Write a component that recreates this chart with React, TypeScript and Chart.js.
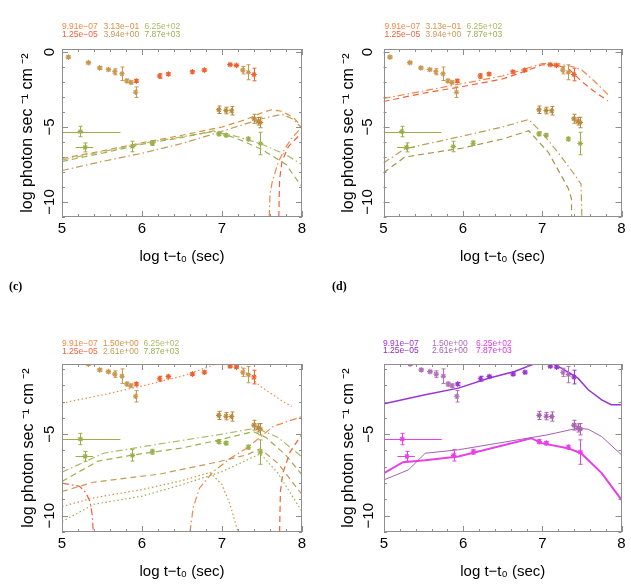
import React, { useEffect, useRef } from "react";
import { Chart, registerables } from "chart.js";
Chart.register(...registerables);

const FONT = "'Liberation Sans', Arial, Helvetica, sans-serif";

// ---------- observed light-curve points (log t, log flux) ----------
const optX = [5.93, 6.22, 6.33, 6.63, 6.78, 7.1, 7.18, 7.4];
const optY = [-1.93, -1.6, -1.47, -1.32, -1.21, -0.84, -0.89, -1.5];
const optErr = [0.1, 0.15, 0.08, 0.08, 0.08, 0.06, 0.06, 0.42];

const uvX = [5.08, 5.33, 5.47, 5.58, 5.66, 5.75, 5.81, 5.86, 5.92, 7.26, 7.33];
const uvY = [-0.34, -0.71, -1.06, -1.17, -1.32, -1.45, -1.93, -2.03, -2.68, -1.21, -1.35];
const uvErr = [0.08, 0.08, 0.08, 0.08, 0.2, 0.45, 0.12, 0.1, 0.35, 0.25, 0.5];

const xrayX = [6.96, 7.05, 7.12, 7.4, 7.45, 7.48];
const xrayY = [-3.85, -3.9, -3.92, -4.45, -4.62, -4.7];
const xrayErr = [0.25, 0.22, 0.28, 0.3, 0.25, 0.35];

const gammaX = [5.23, 5.29, 5.88, 6.13, 6.96, 7.05, 7.33, 7.48];
const gammaY = [-5.3, -6.36, -6.3, -6.08, -5.46, -5.55, -5.8, -6.1];
const gammaErr = [0.35, 0.3, 0.35, 0.15, 0.12, 0.1, 0.12, 0.75];
const gammaXLo = [0.23, 0.12, 0, 0, 0, 0, 0, 0];
const gammaXHi = [0.5, 0.1, 0, 0, 0, 0, 0, 0];

// ---------- model curves ----------
type Pt = [number, number];
const aGreenDash: Pt[] = [[5, -7.3], [5.5, -6.75], [6, -6.15], [6.5, -5.7], [6.9, -5.25], [7.2, -5.8], [7.5, -6.5], [7.8, -7.5], [8, -9.0]];
const aGreenDashDot: Pt[] = [[5, -7.2], [5.5, -6.65], [6, -6.1], [6.5, -5.65], [6.9, -5.3], [7.2, -5.65], [7.5, -6.15], [7.8, -6.85], [8, -7.5]];
const aBrownDash: Pt[] = [[5, -7.1], [5.5, -6.6], [6, -6.05], [6.5, -5.55], [7, -5.0], [7.3, -4.5], [7.5, -4.05], [7.62, -3.85], [7.75, -3.95], [7.9, -4.4], [8, -5.0]];
const aBrownDashDot: Pt[] = [[5, -7.9], [5.5, -7.3], [6, -6.75], [6.5, -6.1], [6.9, -5.45], [7.2, -4.95], [7.5, -4.45], [7.75, -4.15], [7.9, -4.5], [8, -5.1]];
const aRedDashDot: Pt[] = [[7.59, -11], [7.6, -9.5], [7.63, -8.6], [7.7, -7.4], [7.78, -6.5], [7.87, -5.75], [8, -5.0]];
const aRedDash: Pt[] = [[7.71, -11], [7.72, -8.5], [7.75, -7.3], [7.83, -6.3], [7.92, -5.8], [8, -5.4]];

const bOrangeDashDot: Pt[] = [[5, -3.1], [5.5, -2.6], [6, -2.1], [6.5, -1.6], [6.8, -1.1], [7.0, -0.77], [7.2, -0.78], [7.4, -1.0], [7.5, -1.2], [7.65, -1.9], [7.83, -2.84]];
const bRedDash: Pt[] = [[5, -3.3], [5.5, -2.75], [6, -2.3], [6.5, -1.8], [6.8, -1.25], [7.0, -0.85], [7.2, -0.9], [7.35, -1.2], [7.5, -1.97], [7.65, -2.6], [7.83, -3.27]];
const bBrownDashDot: Pt[] = [[5, -7.4], [5.27, -6.45], [6, -5.6], [6.5, -5.0], [6.83, -4.5], [7.0, -5.4], [7.2, -6.7], [7.37, -7.9], [7.49, -8.8], [7.5, -11]];
const bGreenDash: Pt[] = [[5, -8.05], [5.27, -7.0], [6, -6.4], [6.5, -5.8], [6.83, -5.25], [7.08, -6.7], [7.33, -9.1], [7.37, -9.8], [7.37, -11]];

const cOrangeDot: Pt[] = [[5, -3.1], [5.5, -2.6], [6, -2.05], [6.5, -1.45], [6.9, -0.75], [7.05, -0.4], [7.2, -0.6], [7.32, -1.36], [7.48, -2.07], [7.73, -2.9], [7.87, -3.3]];
const cGreenDashDot: Pt[] = [[5, -7.33], [5.52, -6.17], [6.22, -5.6], [7, -5.0], [7.43, -4.63], [7.7, -5.2], [8, -6.4]];
const cGreenDash: Pt[] = [[5, -7.9], [5.45, -6.65], [5.9, -6.27], [6.5, -5.85], [6.97, -5.35], [7.39, -4.84], [7.55, -5.2], [7.8, -6.3], [8, -7.5]];
const cBrownDash: Pt[] = [[5, -8.52], [5.39, -7.95], [6.22, -7.45], [6.97, -6.68], [7.31, -6.27], [7.48, -5.9], [7.7, -6.8], [8, -8.7]];
const cGreenDot: Pt[] = [[5, -10.36], [5.4, -9.3], [6, -8.8], [6.5, -8.1], [7, -7.3], [7.48, -6.2], [7.7, -7.4], [8, -9.75]];
const cBrownDot: Pt[] = [[5, -9.44], [5.4, -8.9], [6, -8.4], [6.5, -7.85], [6.85, -7.35], [7.0, -8.1], [7.1, -9.3], [7.2, -11]];
const cRedDashDotL: Pt[] = [[5, -8.0], [5.22, -8.2], [5.3, -8.6], [5.35, -9.13], [5.38, -10], [5.39, -11]];
const cRedDashDotR: Pt[] = [[6.6, -11], [6.64, -9.5], [6.72, -8.3], [6.89, -7.3], [7.1, -6.5], [7.31, -5.86], [7.64, -4.53], [8, -3.92]];
const cRedDash: Pt[] = [[7.72, -11], [7.73, -8.5], [7.76, -7.4], [7.85, -6.1], [8, -5.0]];

const dPurple: Pt[] = [[5, -3.14], [5.52, -2.59], [5.94, -2.18], [6.32, -1.57], [6.65, -1.16], [6.9, -0.69], [7.0, -0.5], [7.1, -0.6], [7.24, -0.95], [7.45, -1.57], [7.58, -2.28], [7.75, -2.9], [7.87, -3.2], [8.0, -3.2]];
const dMauve: Pt[] = [[5, -7.8], [5.31, -7.19], [5.52, -6.17], [5.94, -5.96], [7.07, -5.04], [7.45, -4.63], [7.58, -4.7], [7.75, -5.15], [8, -6.27]];
const dMagenta: Pt[] = [[5, -7.39], [5.24, -6.72], [5.52, -6.6], [5.94, -6.37], [6.86, -5.25], [6.99, -5.55], [7.32, -5.86], [7.49, -6.17], [7.75, -7.39], [8, -9.03]];

// ---------- legends ----------
const legendTop = ["9.91e\u221207", "3.13e\u221201", "6.25e+02"];
const legendBot = ["1.25e\u221205", "3.94e+00", "7.87e+03"];
const legendTopC = ["9.91e\u221207", "1.50e+00", "6.25e+02"];
const legendBotC = ["1.25e\u221205", "2.61e+00", "7.87e+03"];

const DASH = [6, 4];
const DASHDOT = [7, 3, 1.5, 3];
const DOT = [1.5, 2.5];

const C = {
  orange: "#f08848", red: "#f0603c", tanL: "#d89040", tan: "#c49a58", olive: "#b0b868", green: "#98b050",
  pUV: "#c89850", pX: "#b88a3c", pOpt: "#f0602c", pG: "#98b048",
};
const D = { purple: "#9a34d4", purple2: "#8a2cc4", mauve: "#b070b8", mauve2: "#a860b0", mag: "#e840e8", mag2: "#e030e0" };

function lineDs(pts: Pt[], color: string, dash: number[], width = 1.2) {
  return {
    data: pts.map(([x, y]) => ({ x, y })), showLine: true, borderColor: color, backgroundColor: color,
    borderDash: dash, borderWidth: width, pointRadius: 0, fill: false, tension: 0,
  };
}
function pointDs(xs: number[], ys: number[], err: number[], color: string, xlo?: number[], xhi?: number[]) {
  return {
    data: xs.map((x, i) => ({ x, y: ys[i] })), showLine: false, pointStyle: "star", pointRadius: 2.8,
    borderColor: color, backgroundColor: color, borderWidth: 1.1, errY: err, errXLo: xlo, errXHi: xhi,
  };
}
function obs(cOpt: string, cUV: string, cX: string, cG: string) {
  return [
    pointDs(optX, optY, optErr, cOpt),
    pointDs(uvX, uvY, uvErr, cUV),
    pointDs(xrayX, xrayY, xrayErr, cX),
    pointDs(gammaX, gammaY, gammaErr, cG, gammaXLo, gammaXHi),
  ];
}

const framePlugin = {
  id: "frame",
  afterDraw(chart: any, _a: any, opts: any) {
    const { ctx, chartArea: ca, scales } = chart;
    const xs = scales.x, ys = scales.y;
    ctx.save();
    ctx.strokeStyle = "#8e8e8e";
    ctx.lineWidth = 1;
    ctx.strokeRect(Math.round(ca.left) + 0.5, Math.round(ca.top) + 0.5, Math.round(ca.width) - 1, Math.round(ca.height) - 1);
    ctx.beginPath();
    for (let i = 0; i <= 15; i++) {
      const v = (25 + i) / 5;
      const px = Math.round(xs.getPixelForValue(v)) + 0.5;
      const len = i % 5 === 0 ? 6 : 3;
      ctx.moveTo(px, ca.bottom); ctx.lineTo(px, ca.bottom - len);
      ctx.moveTo(px, ca.top); ctx.lineTo(px, ca.top + len);
    }
    for (let v = -11; v <= 0; v++) {
      if (v < ys.min - 1e-9 || v > ys.max + 1e-9) continue;
      const py = Math.round(ys.getPixelForValue(v)) + 0.5;
      const len = v % 5 === 0 ? 6 : 3;
      ctx.moveTo(ca.left, py); ctx.lineTo(ca.left + len, py);
      ctx.moveTo(ca.right, py); ctx.lineTo(ca.right - len, py);
    }
    ctx.stroke();
    ctx.fillStyle = "#000";
    ctx.font = `15px ${FONT}`;
    ctx.textAlign = "center";
    ctx.textBaseline = "middle";
    for (const v of [0, -5, -10]) {
      if (v < ys.min || v > ys.max) continue;
      const py = ys.getPixelForValue(v);
      ctx.save();
      ctx.translate(opts.labelX, py);
      ctx.rotate(-Math.PI / 2);
      ctx.fillText(v === 0 ? "0" : "\u2212" + Math.abs(v), 0, 0);
      ctx.restore();
    }
    ctx.restore();
  },
};

const errPlugin = {
  id: "errbars",
  afterDatasetsDraw(chart: any) {
    const { ctx, chartArea: ca, scales } = chart;
    const xs = scales.x, ys = scales.y;
    ctx.save();
    ctx.beginPath();
    ctx.rect(ca.left, ca.top, ca.width, ca.height);
    ctx.clip();
    ctx.lineWidth = 1;
    chart.data.datasets.forEach((ds: any) => {
      if (!ds.errY) return;
      ctx.strokeStyle = ds.borderColor;
      ctx.beginPath();
      ds.data.forEach((p: any, i: number) => {
        const px = Math.round(xs.getPixelForValue(p.x)) + 0.5;
        const py = Math.round(ys.getPixelForValue(p.y)) + 0.5;
        const e = ds.errY[i];
        if (e > 0) {
          const y1 = ys.getPixelForValue(p.y + e), y2 = ys.getPixelForValue(p.y - e);
          ctx.moveTo(px, y1); ctx.lineTo(px, y2);
          ctx.moveTo(px - 2, y1); ctx.lineTo(px + 2, y1);
          ctx.moveTo(px - 2, y2); ctx.lineTo(px + 2, y2);
        }
        const lo = ds.errXLo ? ds.errXLo[i] : 0, hi = ds.errXHi ? ds.errXHi[i] : 0;
        if (lo || hi) {
          ctx.moveTo(xs.getPixelForValue(p.x - lo), py);
          ctx.lineTo(xs.getPixelForValue(p.x + hi), py);
        }
      });
      ctx.stroke();
    });
    ctx.restore();
  },
};

type PanelCfg = {
  ca: { l: number; r: number; t: number; b: number };
  yMin: number; yMax: number; yTitleX: number; yTickX: number; xTitleY: number;
  datasets: any[];
};

const W = 631, H = 587;

const panels: PanelCfg[] = [
  {
    ca: { l: 62, r: 302, t: 49, b: 217 }, yMin: -11, yMax: 0.2, yTitleX: 28, yTickX: 49.5, xTitleY: 257,
    datasets: [
      lineDs(aGreenDash, C.green, DASH), lineDs(aGreenDashDot, C.olive, DASHDOT),
      lineDs(aBrownDash, C.tanL, DASH), lineDs(aBrownDashDot, C.tan, DASHDOT),
      lineDs(aRedDashDot, C.orange, DASHDOT), lineDs(aRedDash, C.red, DASH),
      ...obs(C.pOpt, C.pUV, C.pX, C.pG),
    ],
  },
  {
    ca: { l: 383.5, r: 621.5, t: 49, b: 217 }, yMin: -11, yMax: 0.2, yTitleX: 348.5, yTickX: 368, xTitleY: 257,
    datasets: [
      lineDs(bOrangeDashDot, C.orange, DASHDOT), lineDs(bRedDash, C.red, DASH),
      lineDs(bBrownDashDot, C.tan, DASHDOT), lineDs(bGreenDash, "#a89448", DASH),
      ...obs(C.pOpt, C.pUV, C.pX, C.pG),
    ],
  },
  {
    ca: { l: 62, r: 302, t: 364, b: 532 }, yMin: -11, yMax: -0.7, yTitleX: 28.5, yTickX: 50, xTitleY: 572,
    datasets: [
      lineDs(cOrangeDot, C.orange, DOT), lineDs(cGreenDashDot, C.olive, DASHDOT),
      lineDs(cGreenDash, C.green, DASH), lineDs(cBrownDash, C.tan, DASH),
      lineDs(cGreenDot, C.green, DOT), lineDs(cBrownDot, C.tanL, DOT),
      lineDs(cRedDashDotL, C.red, DASHDOT), lineDs(cRedDashDotR, C.orange, DASHDOT),
      lineDs(cRedDash, C.red, DASH),
      ...obs(C.pOpt, C.pUV, C.pX, C.pG),
    ],
  },
  {
    ca: { l: 384, r: 621.5, t: 364, b: 532 }, yMin: -11, yMax: -0.7, yTitleX: 348.5, yTickX: 369, xTitleY: 572,
    datasets: [
      lineDs(dPurple, D.purple, [], 1.5), lineDs(dMauve, D.mauve2, [], 1), lineDs(dMagenta, D.mag, [], 2),
      ...obs(D.purple, D.mauve, D.mauve2, D.mag),
    ],
  },
];

function Panel({ cfg }: { cfg: PanelCfg }) {
  const ref = useRef<HTMLCanvasElement>(null);
  useEffect(() => {
    const { ca } = cfg;
    const yLineH = 16 * 1.2, xLineH = 15 * 1.2;
    const wY = ca.l - cfg.yTitleX + yLineH / 2;
    const hX = cfg.xTitleY + xLineH / 2 - ca.b;
    const chart = new Chart(ref.current as HTMLCanvasElement, {
      type: "scatter",
      data: { datasets: cfg.datasets as any },
      plugins: [framePlugin as any, errPlugin as any],
      options: {
        animation: false,
        responsive: false,
        devicePixelRatio: 1,
        events: [],
        layout: { padding: { left: ca.l - wY, right: W - ca.r, top: ca.t, bottom: H - ca.b - hX } },
        plugins: { legend: { display: false }, tooltip: { enabled: false }, frame: { labelX: cfg.yTickX } } as any,
        scales: {
          x: {
            type: "linear", min: 5, max: 8,
            ticks: { stepSize: 1, color: "#000", padding: 3, maxRotation: 0, font: { family: FONT, size: 15 } },
            grid: { display: false, drawTicks: false },
            border: { display: false },
            title: { display: true, text: "log t\u2212t\u2080 (sec)", color: "#000", padding: 0, font: { family: FONT, size: 15 } },
            afterFit: (s: any) => { s.height = hX; },
          },
          y: {
            type: "linear", min: cfg.yMin, max: cfg.yMax,
            ticks: { display: false },
            grid: { display: false, drawTicks: false },
            border: { display: false },
            title: { display: true, text: "log photon sec \u207B\u00B9 cm \u207B\u00B2", color: "#000", padding: 0, font: { family: FONT, size: 16 } },
            afterFit: (s: any) => { s.width = wY; },
          },
        } as any,
      },
    });
    return () => chart.destroy();
  }, [cfg]);
  return <canvas ref={ref} width={W} height={H} style={{ position: "absolute", left: 0, top: 0, width: W, height: H }} />;
}

function Legend({ xs, ys, top, bot, colors }: { xs: number[]; ys: number[]; top: string[]; bot: string[]; colors: string[][] }) {
  const items: any[] = [];
  const st = { position: "absolute" as const, fontSize: 8.5, lineHeight: "10px", fontFamily: FONT, whiteSpace: "nowrap" as const };
  xs.forEach((x, i) => {
    items.push(<div key={"t" + i} style={{ ...st, left: x, top: ys[0] - 5, color: colors[i][0] }}>{top[i]}</div>);
    items.push(<div key={"b" + i} style={{ ...st, left: x, top: ys[1] - 5, color: colors[i][1] }}>{bot[i]}</div>);
  });
  return <>{items}</>;
}

export default function App() {
  const warm = [[C.orange, C.red], [C.tanL, C.tan], [C.olive, C.green]];
  const cool = [[D.purple, D.purple2], [D.mauve, D.mauve2], [D.mag, D.mag2]];
  const lab = { position: "absolute" as const, fontFamily: "'Liberation Serif', 'Times New Roman', serif", fontWeight: 700, fontSize: 12, lineHeight: "12px" };
  return (
    <div style={{ position: "absolute", left: 0, top: 0, width: W, height: H, background: "#fff", overflow: "hidden" }}>
      {panels.map((p, i) => <Panel key={i} cfg={p} />)}
      <Legend xs={[62, 103.5, 144.5]} ys={[26, 33.5]} top={legendTop} bot={legendBot} colors={warm} />
      <Legend xs={[384.5, 425.5, 466.5]} ys={[26, 33.5]} top={legendTop} bot={legendBot} colors={warm} />
      <Legend xs={[62, 103, 143.5]} ys={[343, 350.5]} top={legendTopC} bot={legendBotC} colors={warm} />
      <Legend xs={[383, 432, 476]} ys={[342.5, 350]} top={legendTopC} bot={legendBotC} colors={cool} />
      <div style={{ ...lab, left: 9, top: 280 }}>(c)</div>
      <div style={{ ...lab, left: 332, top: 280 }}>(d)</div>
    </div>
  );
}
